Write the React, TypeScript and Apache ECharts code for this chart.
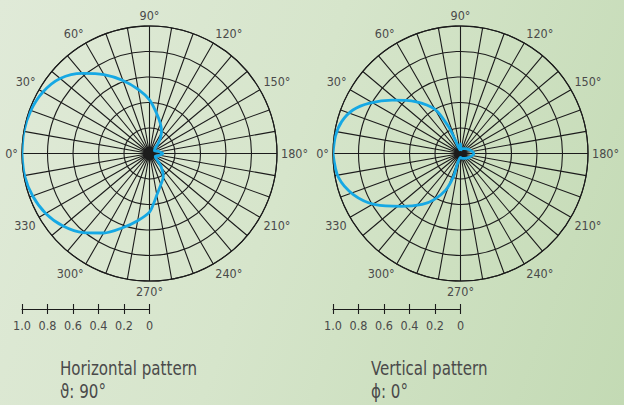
import React, { useEffect, useRef } from 'react';
import * as echarts from 'echarts';

// Horizontal pattern (theta = 90°): angle in degrees, relative field strength
const HORIZONTAL_ANGLES = [0, 10, 20, 30, 40, 50, 60, 70, 80, 90, 100, 110, 118, 125, 131, 137, 150, 165, 180, 195, 205, 215, 223, 229, 239, 250, 260, 265, 270, 280, 290, 300, 310, 320, 330, 340, 350, 360];
const HORIZONTAL_GAIN = [1.0, 1.0, 0.99, 0.965, 0.915, 0.82, 0.715, 0.61, 0.51, 0.42, 0.32, 0.25, 0.2, 0.15, 0.1, 0.06, 0.045, 0.07, 0.105, 0.07, 0.05, 0.06, 0.094, 0.14, 0.21, 0.26, 0.33, 0.39, 0.46, 0.535, 0.62, 0.72, 0.81, 0.885, 0.94, 0.975, 0.995, 1.0];

// Vertical pattern (phi = 0°)
const VERTICAL_ANGLES = [0, 8, 15, 22, 29, 38, 49, 60, 66, 69, 71, 80, 90, 100, 108, 130, 154, 180, 206, 230, 252, 270, 286, 287, 292, 300, 307, 318, 329, 339, 349, 360];
const VERTICAL_GAIN = [1.0, 0.99, 0.965, 0.91, 0.815, 0.68, 0.54, 0.4, 0.23, 0.11, 0.055, 0.03, 0.075, 0.03, 0.04, 0.05, 0.073, 0.105, 0.073, 0.05, 0.04, 0.03, 0.068, 0.19, 0.31, 0.42, 0.5, 0.62, 0.78, 0.9, 0.976, 1.0];

const ANGLE_LABEL_VALUES = [0, 30, 60, 90, 120, 150, 180, 210, 240, 270, 300, 330];
const ANGLE_LABEL_TEXTS = ['0°', '30°', '60°', '90°', '120°', '150°', '180°', '210°', '240°', '270°', '300°', '330'];

const SCALE_VALUES = [1.0, 0.8, 0.6, 0.4, 0.2, 0];
const SCALE_LABELS = ['1.0', '0.8', '0.6', '0.4', '0.2', '0'];

const TITLES = ['Horizontal pattern', 'Vertical pattern'];
const SUBTITLES = ['ϑ: 90°', 'ϕ: 0°'];

const FONT = "'DejaVu Sans Condensed', 'Liberation Sans Narrow', 'Liberation Sans', sans-serif";
const TEXT_COLOR = '#4a4a4a';
const GRID_COLOR = '#1c1c1c';
const CURVE_COLOR = '#16a8e4';

export default function App() {
  const ref = useRef<HTMLDivElement>(null);

  useEffect(() => {
    document.body.style.margin = '0';
    const chart = echarts.init(ref.current as HTMLDivElement, null, { renderer: 'svg' });

    const CX = [149.5, 460.5];
    const CY = 153.5;
    const R = 127.5;
    const BAR_Y = 309;

    const labelFor = (v: number) => {
      const n = Math.round(v);
      const idx = ANGLE_LABEL_VALUES.indexOf(n);
      return idx >= 0 ? ANGLE_LABEL_TEXTS[idx] : '';
    };
    const scaleLabelFor = (v: number) => {
      let best = 0;
      SCALE_VALUES.forEach((s, i) => {
        if (Math.abs(s - v) < Math.abs(SCALE_VALUES[best] - v)) best = i;
      });
      return SCALE_LABELS[best];
    };

    const polar = CX.map((cx) => ({ center: [cx, CY], radius: R }));

    const angleAxis = CX.map((_, i) => ({
      polarIndex: i,
      type: 'value',
      min: 0,
      max: 360,
      interval: 10,
      startAngle: 180,
      clockwise: true,
      axisLine: { show: true, lineStyle: { color: GRID_COLOR, width: 1.1 } },
      axisTick: { show: false },
      axisLabel: {
        show: true,
        interval: 0,
        margin: 4,
        color: TEXT_COLOR,
        fontSize: 12.5,
        fontFamily: FONT,
        formatter: labelFor,
      },
      splitLine: { show: true, lineStyle: { color: GRID_COLOR, width: 1.1 } },
    }));

    const radiusAxis = CX.map((_, i) => ({
      polarIndex: i,
      type: 'value',
      min: 0,
      max: 1,
      interval: 0.2,
      axisLine: { show: false },
      axisTick: { show: false },
      axisLabel: { show: false },
      splitLine: { show: true, lineStyle: { color: GRID_COLOR, width: 1.1 } },
    }));

    const grid = CX.map((cx) => ({ left: cx - R, width: R, top: BAR_Y, height: 0, containLabel: false }));

    const xAxis: any[] = [];
    CX.forEach((_, i) => {
      xAxis.push({
        gridIndex: i,
        type: 'value',
        min: 0,
        max: 1,
        interval: 0.2,
        inverse: true,
        position: 'bottom',
        axisLine: { show: true, onZero: false, lineStyle: { color: GRID_COLOR, width: 1.1 } },
        axisTick: { show: true, length: 5, lineStyle: { color: GRID_COLOR, width: 1.1 } },
        axisLabel: {
          show: true,
          margin: 10,
          color: TEXT_COLOR,
          fontSize: 12.5,
          fontFamily: FONT,
          formatter: scaleLabelFor,
        },
        splitLine: { show: false },
      });
      xAxis.push({
        gridIndex: i,
        type: 'value',
        min: 0,
        max: 1,
        interval: 0.2,
        inverse: true,
        position: 'top',
        axisLine: { show: false, onZero: false },
        axisTick: { show: true, length: 5, lineStyle: { color: GRID_COLOR, width: 1.1 } },
        axisLabel: { show: false },
        splitLine: { show: false },
      });
    });
    const yAxis = CX.map((_, i) => ({ gridIndex: i, type: 'value', show: false, min: 0, max: 1 }));

    const series = [
      {
        type: 'line',
        coordinateSystem: 'polar',
        polarIndex: 0,
        data: HORIZONTAL_ANGLES.map((a, i) => [HORIZONTAL_GAIN[i], a]),
        showSymbol: false,
        smooth: 0.3,
        lineStyle: { color: CURVE_COLOR, width: 2.8 },
        silent: true,
        z: 5,
      },
      {
        type: 'line',
        coordinateSystem: 'polar',
        polarIndex: 1,
        data: VERTICAL_ANGLES.map((a, i) => [VERTICAL_GAIN[i], a]),
        showSymbol: false,
        smooth: 0.3,
        lineStyle: { color: CURVE_COLOR, width: 2.8 },
        silent: true,
        z: 5,
      },
    ];

    const graphic: any[] = [];
    const TEXT_X = [60, 371];
    TITLES.forEach((t, i) => {
      graphic.push({
        type: 'text',
        x: TEXT_X[i],
        y: 368,
        scaleX: 0.86,
        style: { text: t, fill: TEXT_COLOR, font: `19.5px ${FONT}`, verticalAlign: 'middle', align: 'left' },
      });
      graphic.push({
        type: 'text',
        x: TEXT_X[i],
        y: 391,
        scaleX: 0.86,
        style: { text: SUBTITLES[i], fill: TEXT_COLOR, font: `19.5px ${FONT}`, verticalAlign: 'middle', align: 'left' },
      });
    });

    chart.setOption({
      animation: false,
      backgroundColor: 'transparent',
      polar,
      angleAxis,
      radiusAxis,
      grid,
      xAxis,
      yAxis,
      series,
      graphic,
    });

    return () => chart.dispose();
  }, []);

  return (
    <div
      ref={ref}
      style={{
        width: 624,
        height: 405,
        background: 'linear-gradient(110deg, #e0ead8 0%, #d6e5cb 45%, #c3dab4 100%)',
      }}
    />
  );
}
